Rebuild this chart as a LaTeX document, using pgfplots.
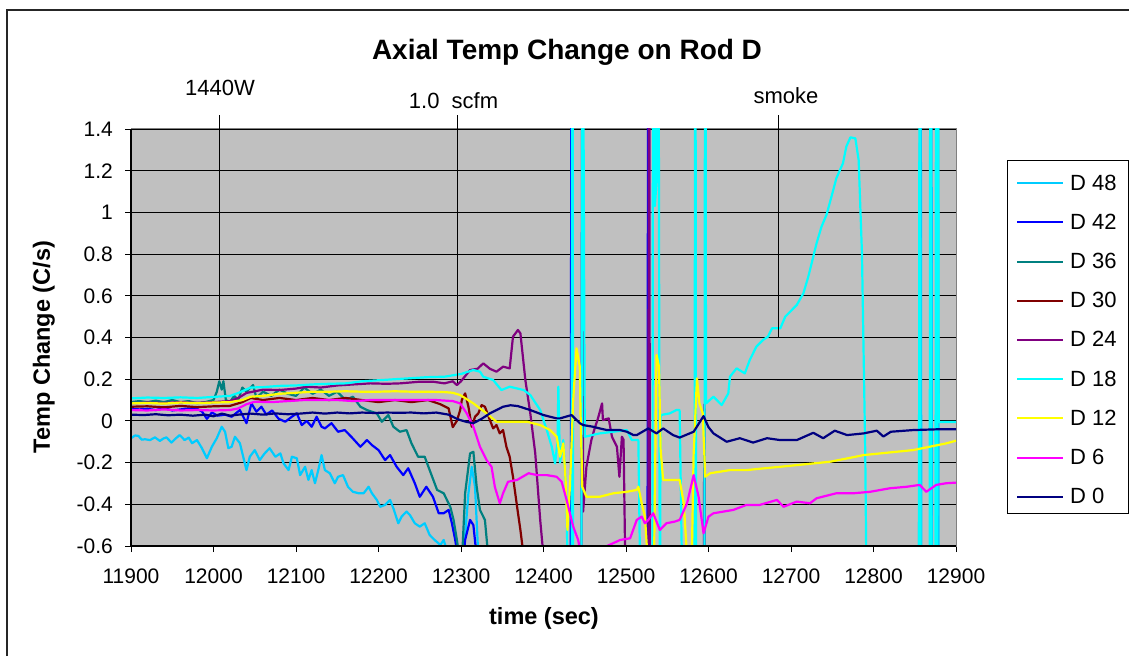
\documentclass[border=0pt]{standalone}
\usepackage{pgfplots}
\pgfplotsset{compat=1.18}
\usepackage{fontspec}
\setmainfont{Liberation Sans}
\definecolor{cA}{HTML}{00CCFF}
\definecolor{cB}{HTML}{0000FF}
\definecolor{cC}{HTML}{008080}
\definecolor{cD}{HTML}{800000}
\definecolor{cE}{HTML}{800080}
\definecolor{cF}{HTML}{00FFFF}
\definecolor{cG}{HTML}{FFFF00}
\definecolor{cH}{HTML}{FF00FF}
\definecolor{cI}{HTML}{000080}
\definecolor{bg}{HTML}{C0C0C0}
\definecolor{pborder}{HTML}{808080}
\begin{document}
\begin{tikzpicture}[x=1pt,y=1pt]
\useasboundingbox (0,0) rectangle (1129,656);
\draw[line width=1.3pt, black!85] (7,0) -- (7,646) -- (1129,646);
\node[anchor=base, font=\fontsize{28}{32}\selectfont\bfseries] at (567,596) {Axial Temp Change on Rod D};
\begin{axis}[
  at={(131pt,110pt)}, anchor=south west,
  scale only axis, width=825pt, height=417pt,
  xmin=11900, xmax=12900, ymin=-0.6, ymax=1.4,
  scaled x ticks=false, scaled y ticks=false,
  axis background/.style={fill=bg},
  axis line style={draw=pborder, line width=1pt},
  xtick={11900,12000,12100,12200,12300,12400,12500,12600,12700,12800,12900},
  xticklabels={11900,12000,12100,12200,12300,12400,12500,12600,12700,12800,12900},
  ytick={-0.6,-0.4,-0.2,0,0.2,0.4,0.6,0.8,1,1.2,1.4},
  yticklabels={-0.6,-0.4,-0.2,0,0.2,0.4,0.6,0.8,1,1.2,1.4},
  xtick pos=lower, ytick pos=left,
  tick align=outside, major tick length=6pt,
  tick style={black, line width=0.9pt},
  ymajorgrids, major grid style={black, line width=0.9pt},
  tick label style={font=\fontsize{21}{25}\selectfont, inner sep=0pt},
  yticklabel style={xshift=-12pt},
  xticklabel style={yshift=-17pt},
  xlabel={time (sec)}, ylabel={Temp Change (C/s)},
  xlabel style={at={(axis description cs:0.5006,-0.1727)}, anchor=center, font=\fontsize{23.5}{28}\selectfont\bfseries},
  ylabel style={at={(axis description cs:-0.1055,0.477)}, anchor=center, font=\fontsize{23.5}{28}\selectfont\bfseries},
  clip mode=individual,
  every axis plot/.append style={line width=2.2pt, line join=round},
  legend style={at={(axis description cs:1.0727,0.9175)}, anchor=north west, draw=none, fill=none, inner sep=0pt,
     font=\fontsize{22}{26}\selectfont, row sep=0pt,
     nodes={inner sep=0pt, minimum height=39.2pt},
     /tikz/every odd column/.append style={column sep=6pt}},
  legend cell align=left,
  legend image code/.code={\draw[#1, line width=2pt] (0pt,0pt) -- (46pt,0pt);},
]
% D 48
\addplot[cA] coordinates {
(11900,-0.083)(11905,-0.07)(11909,-0.072)(11913,-0.09)(11917,-0.088)(11923,-0.092)(11929,-0.079)(11935,-0.096)(11939,-0.085)(11943,-0.079)(11949,-0.104)(11954,-0.085)(11959,-0.068)(11965,-0.092)
(11970,-0.08)(11974,-0.107)(11980,-0.092)(11986,-0.131)(11992,-0.179)(11998,-0.124)(12004,-0.083)(12010,-0.028)(12014,-0.052)(12018,-0.131)(12022,-0.124)
(12026,-0.076)(12032,-0.107)(12036,-0.172)(12040,-0.236)(12044,-0.172)(12050,-0.140)(12056,-0.188)(12062,-0.156)(12068,-0.131)(12075,-0.172)
(12081,-0.156)(12085,-0.204)(12091,-0.236)(12095,-0.172)(12101,-0.179)(12105,-0.260)(12111,-0.220)(12115,-0.283)(12119,-0.236)(12123,-0.299)
(12127,-0.236)(12131,-0.164)(12135,-0.236)(12141,-0.251)(12147,-0.299)(12151,-0.268)(12157,-0.260)(12163,-0.316)(12169,-0.340)(12176,-0.347)
(12182,-0.347)(12188,-0.316)(12192,-0.347)(12198,-0.379)(12202,-0.412)(12208,-0.403)(12214,-0.379)(12218,-0.419)(12224,-0.491)(12228,-0.459)
(12234,-0.435)(12238,-0.451)(12244,-0.491)(12250,-0.507)(12256,-0.491)(12262,-0.547)(12268,-0.571)(12275,-0.595)(12279,-0.571)(12285,-0.65)
(12303,-0.65)(12309,-0.347)(12313,-0.220)(12317,-0.316)(12321,-0.65)(12330,-1)(12855,-1)(12857,3)(12858,-1)(12869,-1)(12870,3)(12871,-1)(12877,-1)(12878,3)(12879,-1)(12900,-1)
};
\addlegendentry{D 48}
% D 42
\addplot[cB] coordinates {
(11900,0.060)(11910,0.055)(11920,0.058)(11930,0.052)(11940,0.062)(11950,0.050)(11960,0.055)(11970,0.060)(11980,0.058)(11986,0.045)(11992,0.010)(11998,0.040)(12005,0.025)(12014,0.03)
(12022,0.02)(12032,0.052)(12040,-0.011)(12046,0.084)(12052,0.044)(12058,0.068)(12064,0.03)(12071,0.05)(12079,0.01)(12087,-0.004)
(12095,0.020)(12101,0.036)(12107,-0.020)(12113,0.0)(12119,-0.028)(12125,0.020)(12131,-0.028)(12135,-0.036)(12143,-0.011)(12151,-0.052)
(12159,-0.044)(12167,-0.076)(12178,-0.124)(12186,-0.092)(12192,-0.116)(12200,-0.140)(12208,-0.188)(12214,-0.164)(12222,-0.220)(12230,-0.260)
(12236,-0.227)(12244,-0.299)(12250,-0.364)(12258,-0.316)(12266,-0.364)(12273,-0.443)(12279,-0.443)(12285,-0.427)(12289,-0.491)(12293,-0.571)
(12296,-0.65)(12303,-0.65)(12305,-0.571)(12311,-0.475)(12315,-0.500)(12319,-0.65)(12325,-1)(12433,-1)(12434,3)(12435,-1)(12526,-1)(12527,3)(12528,-1)(12900,-1)
};
\addlegendentry{D 42}
% D 36
\addplot[cC] coordinates {
(11900,0.090)(11910,0.095)(11920,0.090)(11930,0.097)(11940,0.090)(11950,0.100)(11960,0.090)(11970,0.095)(11980,0.085)(11990,0.090)
(12000,0.100)(12004,0.140)(12007,0.190)(12010,0.150)(12012,0.190)(12015,0.100)(12020,0.090)(12025,0.120)(12030,0.100)(12035,0.160)
(12040,0.140)(12048,0.172)(12052,0.110)(12060,0.140)(12070,0.120)(12080,0.150)(12090,0.130)(12100,0.120)(12110,0.160)(12120,0.130)
(12130,0.150)(12140,0.120)(12150,0.140)(12160,0.100)(12169,0.116)(12178,0.068)(12186,0.052)(12198,0.036)(12204,-0.004)(12212,0.028)
(12218,-0.028)(12226,-0.052)(12234,-0.044)(12240,-0.108)(12248,-0.172)(12256,-0.172)(12262,-0.236)(12271,-0.331)(12279,-0.347)(12287,-0.412)
(12291,-0.475)(12295,-0.571)(12298,-0.65)(12302,-0.60)(12305,-0.347)(12311,-0.156)(12315,-0.148)(12319,-0.316)(12323,-0.427)(12329,-0.475)
(12333,-0.65)(12340,-1)(12900,-1)
};
\addlegendentry{D 36}
% D 30
\addplot[cD] coordinates {
(11900,0.068)(11920,0.070)(11940,0.065)(11960,0.072)(11980,0.066)(12000,0.070)(12020,0.072)(12035,0.090)(12045,0.110)(12060,0.100)
(12080,0.110)(12100,0.100)(12120,0.110)(12140,0.100)(12160,0.110)(12180,0.100)(12200,0.090)(12220,0.100)(12240,0.090)(12260,0.100)
(12275,0.080)(12285,0.060)(12290,-0.030)(12295,0.000)(12299,0.052)(12301,0.100)(12305,0.132)(12309,0.068)(12313,-0.028)(12317,0.020)
(12321,0.036)(12325,0.076)(12329,0.068)(12335,0.004)(12339,-0.036)(12343,-0.020)(12347,-0.060)(12351,-0.044)(12355,-0.124)(12359,-0.172)
(12363,-0.268)(12368,-0.412)(12372,-0.523)(12376,-0.65)(12380,-1)(12900,-1)
};
\addlegendentry{D 30}
% D 24
\addplot[cE] coordinates {
(11900,0.085)(11920,0.088)(11940,0.086)(11960,0.090)(11980,0.087)(12000,0.090)(12020,0.095)(12030,0.110)(12040,0.134)(12060,0.150)
(12080,0.148)(12100,0.155)(12113,0.164)(12130,0.160)(12150,0.170)(12170,0.175)(12190,0.180)(12210,0.178)(12226,0.180)(12250,0.188)
(12266,0.188)(12280,0.180)(12290,0.190)(12295,0.172)(12300,0.190)(12311,0.244)(12320,0.250)(12327,0.276)(12335,0.250)(12343,0.236)
(12351,0.260)(12359,0.252)(12363,0.404)(12369,0.436)(12372,0.420)(12378,0.196)(12384,0.036)(12390,-0.156)(12396,-0.475)(12400,-0.65)
(12405,-1)(12446,-1)(12447,3)(12448,-0.435)(12452,-0.220)(12458,-0.092)(12462,-0.036)(12466,0.012)(12471,0.084)(12472,0.004)
(12479,0.012)(12483,-0.076)(12489,-0.124)(12492,-0.268)(12495,-0.076)(12497,-0.090)(12499,-0.65)(12502,-1)(12527,-1)(12528,3)
(12529,-1)(12594,-1)(12595,0.080)(12596,-1)(12900,-1)
};
\addlegendentry{D 24}
% D 18
\addplot[cF] coordinates {
(11900,0.108)(11920,0.112)(11940,0.110)(11960,0.113)(11980,0.110)(12000,0.115)(12020,0.120)(12030,0.134)(12045,0.160)(12060,0.162)
(12080,0.168)(12100,0.170)(12120,0.175)(12140,0.178)(12160,0.180)(12180,0.190)(12200,0.195)(12220,0.200)(12240,0.205)(12260,0.210)
(12280,0.212)(12300,0.225)(12315,0.244)(12323,0.236)(12327,0.212)(12339,0.196)(12349,0.148)(12359,0.164)(12376,0.148)(12384,0.124)
(12396,0.052)(12404,-0.044)(12410,-0.124)(12414,-0.204)(12417,-0.100)(12418,0.164)(12420,-0.200)(12424,-0.092)(12428,-0.379)(12430,-1)
(12434,-1)(12435,3)(12436,-1)(12446,-1)(12447,3)(12450,-0.076)(12468,-0.060)(12485,-0.052)(12501,-0.044)(12507,-0.092)
(12515,-0.092)(12518,-1)(12532,-1)(12533,3)(12535,1.03)(12537,1.15)(12539,3)(12541,-1)(12542,0.028)(12553,0.036)
(12561,0.052)(12565,0.052)(12569,-1)(12583,-1)(12584,3)(12585,-1)(12595,-1)(12596,3)(12597,0.084)(12606,0.116)
(12616,0.076)(12624,0.132)(12626,0.212)(12634,0.252)(12644,0.228)(12650,0.292)(12658,0.356)(12666,0.388)(12672,0.404)(12677,0.444)
(12687,0.444)(12693,0.500)(12707,0.556)(12715,0.612)(12721,0.692)(12727,0.788)(12731,0.852)(12737,0.932)(12743,0.988)(12749,1.075)
(12755,1.164)(12763,1.236)(12767,1.315)(12772,1.360)(12778,1.355)(12782,1.251)(12786,0.804)(12790,-0.154)(12792,-1)(12855,-1)
(12856,3)(12857,-1)(12868,-1)(12869,3)(12870,-1)(12875,-1)(12876,3)(12877,-1)(12878,3)(12879,-0.005)(12900,-0.005)
};
\addlegendentry{D 18}
% D 12
\addplot[cG] coordinates {
(11900,0.084)(11920,0.086)(11940,0.083)(11960,0.088)(11980,0.085)(12000,0.088)(12020,0.090)(12035,0.100)(12045,0.116)(12060,0.120)
(12080,0.130)(12100,0.135)(12120,0.140)(12140,0.140)(12160,0.142)(12180,0.140)(12200,0.140)(12220,0.142)(12240,0.140)(12260,0.140)
(12280,0.138)(12290,0.135)(12299,0.124)(12315,0.084)(12331,0.036)(12343,-0.004)(12355,-0.004)(12380,-0.004)(12396,-0.020)(12408,-0.044)
(12416,-0.076)(12420,-0.172)(12424,-0.108)(12427,-0.300)(12429,-0.523)(12432,-0.316)(12436,0.100)(12440,0.348)(12444,0.260)(12445,0.020)
(12447,-0.316)(12452,-0.364)(12468,-0.364)(12485,-0.347)(12501,-0.340)(12513,-0.331)(12515,-0.316)(12519,-0.395)(12523,-0.459)(12526,-0.65)
(12530,-1)(12533,-1)(12537,0.316)(12540,0.260)(12542,-0.140)(12545,-0.283)(12565,-0.283)(12570,-0.395)(12574,-0.65)(12578,-1)
(12580,-0.60)(12582,-0.156)(12586,0.204)(12589,0.084)(12593,0.036)(12596,-0.268)(12602,-0.251)(12626,-0.236)(12646,-0.236)(12666,-0.228)
(12687,-0.220)(12707,-0.212)(12727,-0.204)(12747,-0.196)(12768,-0.180)(12788,-0.164)(12808,-0.156)(12828,-0.148)(12848,-0.140)(12868,-0.124)
(12888,-0.108)(12900,-0.095)
};
\addlegendentry{D 12}
% D 6
\addplot[cH] coordinates {
(11900,0.052)(11920,0.050)(11940,0.055)(11960,0.050)(11980,0.052)(12000,0.050)(12020,0.052)(12030,0.060)(12040,0.080)(12050,0.092)
(12070,0.090)(12090,0.095)(12110,0.100)(12130,0.100)(12150,0.100)(12170,0.095)(12190,0.100)(12210,0.100)(12230,0.100)(12250,0.100)
(12270,0.100)(12290,0.095)(12299,0.084)(12307,0.036)(12315,-0.028)(12323,-0.124)(12331,-0.188)(12337,-0.220)(12341,-0.316)(12347,-0.395)
(12351,-0.347)(12357,-0.292)(12368,-0.283)(12382,-0.251)(12392,-0.260)(12404,-0.260)(12416,-0.268)(12422,-0.292)(12428,-0.379)(12436,-0.507)
(12442,-0.571)(12446,-0.65)(12470,-0.65)(12477,-0.600)(12493,-0.571)(12505,-0.563)(12513,-0.475)(12519,-0.459)(12523,-0.491)(12527,-0.475)
(12533,-0.443)(12541,-0.523)(12549,-0.491)(12559,-0.483)(12565,-0.475)(12574,-0.395)(12582,-0.260)(12588,-0.364)(12594,-0.539)(12600,-0.459)
(12606,-0.443)(12618,-0.435)(12630,-0.427)(12646,-0.403)(12662,-0.403)(12683,-0.379)(12691,-0.412)(12707,-0.387)(12723,-0.395)(12731,-0.371)
(12755,-0.347)(12776,-0.347)(12796,-0.340)(12820,-0.323)(12840,-0.316)(12856,-0.307)(12864,-0.340)(12876,-0.307)(12888,-0.299)(12900,-0.296)
};
\addlegendentry{D 6}
% D 0
\addplot[cI] coordinates {
(11900,0.030)(11915,0.028)(11930,0.032)(11945,0.027)(11960,0.030)(11975,0.025)(11990,0.030)(12000,0.022)(12010,0.035)(12020,0.025)
(12030,0.030)(12045,0.035)(12060,0.030)(12075,0.036)(12090,0.032)(12105,0.035)(12120,0.040)(12135,0.035)(12150,0.040)(12165,0.036)
(12180,0.040)(12195,0.038)(12210,0.040)(12225,0.039)(12240,0.040)(12255,0.036)(12270,0.040)(12285,0.030)(12295,0.010)(12299,0.004)
(12307,-0.005)(12315,-0.011)(12325,0.010)(12335,0.036)(12351,0.068)(12360,0.075)(12369,0.071)(12384,0.052)(12400,0.028)(12416,0.012)
(12420,0.012)(12434,0.028)(12444,-0.011)(12448,-0.020)(12460,-0.028)(12468,-0.036)(12477,-0.044)(12485,-0.044)(12493,-0.044)(12501,-0.052)
(12509,-0.068)(12513,-0.068)(12527,-0.036)(12537,-0.060)(12545,-0.036)(12557,-0.068)(12565,-0.080)(12582,-0.052)(12594,0.023)(12600,-0.030)
(12606,-0.060)(12622,-0.100)(12638,-0.083)(12654,-0.104)(12671,-0.083)(12687,-0.092)(12707,-0.092)(12727,-0.057)(12739,-0.083)(12753,-0.047)
(12768,-0.068)(12788,-0.060)(12804,-0.047)(12812,-0.075)(12821,-0.052)(12848,-0.044)(12880,-0.040)(12900,-0.040)
};
\addlegendentry{D 0}
% axis lines left and bottom
\draw[black, line width=1.3pt] (rel axis cs:0,1) -- (rel axis cs:0,0) -- (rel axis cs:1,0);
% annotation lines
\draw[black, line width=1.3pt] (axis cs:12007,0.2) -- (axis cs:12007,1.467);
\draw[black, line width=1.3pt] (axis cs:12296,0.18) -- (axis cs:12296,1.467);
\draw[black, line width=1.3pt] (axis cs:12685,0.40) -- (axis cs:12685,1.467);
\node[font=\fontsize{22}{26}\selectfont] at (axis cs:12008,1.597) {1440W};
\node[font=\fontsize{22}{26}\selectfont] at (axis cs:12291,1.534) {1.0\ \ scfm};
\node[font=\fontsize{22}{26}\selectfont] at (axis cs:12694,1.56) {smoke};
\end{axis}
\draw[black, line width=1pt] (1007,142) rectangle (1128,495);
\end{tikzpicture}
\end{document}
